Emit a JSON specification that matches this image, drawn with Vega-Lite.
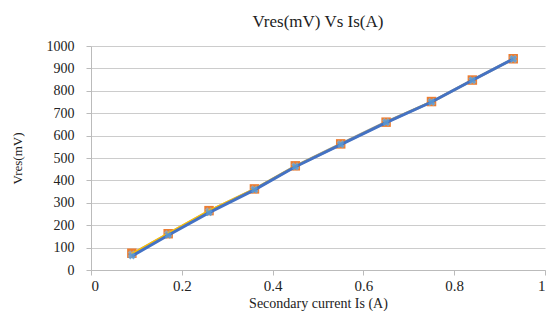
{
  "$schema": "https://vega.github.io/schema/vega-lite/v6.json",
  "autosize": {"type": "none"},
  "width": 454,
  "height": 224,
  "padding": {"left": 91, "top": 46, "right": 15, "bottom": 41},
  "background": "white",
  "title": {"text": "Vres(mV) Vs Is(A)", "font": "Liberation Serif", "fontSize": 17, "fontWeight": "normal", "color": "#222", "offset": 8},
  "config": {"view": {"stroke": null}, "font": "Liberation Serif",
    "axis": {"labelFont": "Liberation Serif", "titleFont": "Liberation Serif"}},
  "data": {"values": [
    {"is": 0.09, "v": 75, "s": "orange"}, {"is": 0.17, "v": 162, "s": "orange"}, {"is": 0.26, "v": 265, "s": "orange"}, {"is": 0.36, "v": 362, "s": "orange"}, {"is": 0.45, "v": 465, "s": "orange"}, {"is": 0.55, "v": 563, "s": "orange"}, {"is": 0.65, "v": 660, "s": "orange"}, {"is": 0.75, "v": 752, "s": "orange"}, {"is": 0.84, "v": 848, "s": "orange"}, {"is": 0.93, "v": 943, "s": "orange"},
    {"is": 0.09, "v": 70, "s": "gray"}, {"is": 0.17, "v": 160, "s": "gray"}, {"is": 0.26, "v": 262, "s": "gray"}, {"is": 0.36, "v": 360, "s": "gray"}, {"is": 0.45, "v": 463, "s": "gray"}, {"is": 0.55, "v": 562, "s": "gray"}, {"is": 0.65, "v": 660, "s": "gray"}, {"is": 0.75, "v": 750, "s": "gray"}, {"is": 0.84, "v": 847, "s": "gray"}, {"is": 0.93, "v": 942, "s": "gray"},
    {"is": 0.09, "v": 72, "s": "yellow"}, {"is": 0.17, "v": 164, "s": "yellow"}, {"is": 0.26, "v": 265, "s": "yellow"}, {"is": 0.36, "v": 362, "s": "yellow"}, {"is": 0.45, "v": 464, "s": "yellow"}, {"is": 0.55, "v": 562, "s": "yellow"}, {"is": 0.65, "v": 660, "s": "yellow"}, {"is": 0.75, "v": 751, "s": "yellow"}, {"is": 0.84, "v": 848, "s": "yellow"}, {"is": 0.93, "v": 942, "s": "yellow"},
    {"is": 0.09, "v": 62, "s": "blue"}, {"is": 0.17, "v": 155, "s": "blue"}, {"is": 0.26, "v": 256, "s": "blue"}, {"is": 0.36, "v": 358, "s": "blue"}, {"is": 0.45, "v": 461, "s": "blue"}, {"is": 0.55, "v": 560, "s": "blue"}, {"is": 0.65, "v": 658, "s": "blue"}, {"is": 0.75, "v": 750, "s": "blue"}, {"is": 0.84, "v": 847, "s": "blue"}, {"is": 0.93, "v": 942, "s": "blue"}
  ]},
  "encoding": {
    "x": {"field": "is", "type": "quantitative", "scale": {"domain": [0, 1], "nice": false},
      "axis": {"title": "Secondary current Is (A)", "values": [0, 0.2, 0.4, 0.6, 0.8, 1], "format": "~r", "grid": false,
        "domainColor": "#bbbbbb", "tickColor": "#bbbbbb", "tickSize": 5, "labelFont": "Liberation Serif", "labelFontSize": 15, "labelColor": "#222", "labelPadding": 3,
        "titleFont": "Liberation Serif", "titleFontSize": 14, "titleFontWeight": "normal", "titleColor": "#222", "titlePadding": 3}},
    "y": {"field": "v", "type": "quantitative", "scale": {"domain": [0, 1000], "nice": false},
      "axis": {"title": "Vres(mV)", "values": [0, 100, 200, 300, 400, 500, 600, 700, 800, 900, 1000], "format": "d", "grid": true, "gridColor": "#cccccc", "gridWidth": 1.2,
        "domainColor": "#bbbbbb", "tickColor": "#bbbbbb", "tickSize": 5, "labelFont": "Liberation Serif", "labelFontSize": 14, "labelColor": "#222", "labelPadding": 12,
        "titleFont": "Liberation Serif", "titleFontSize": 13, "titleFontWeight": "normal", "titleColor": "#222", "titlePadding": 22}}
  },
  "layer": [
    {"transform": [{"filter": "datum.s == 'gray'"}], "mark": {"type": "line", "color": "#A5A5A5", "strokeWidth": 3}},
    {"transform": [{"filter": "datum.s == 'orange'"}], "mark": {"type": "point", "shape": "square", "filled": true, "color": "#ED7D31", "size": 90, "opacity": 1}},
    {"transform": [{"filter": "datum.s == 'gray'"}], "mark": {"type": "point", "shape": "cross", "filled": true, "color": "#A5A5A5", "size": 70, "angle": 45, "opacity": 1}},
    {"transform": [{"filter": "datum.s == 'yellow'"}], "mark": {"type": "line", "color": "#FFC000", "strokeWidth": 2}},
    {"transform": [{"filter": "datum.s == 'blue'"}], "mark": {"type": "line", "color": "#4472C4", "strokeWidth": 3}},
    {"transform": [{"filter": "datum.s == 'blue'"}], "mark": {"type": "point", "shape": "cross", "filled": true, "color": "#5B9BD5", "size": 50, "angle": 45, "opacity": 0.8}}
  ]
}
